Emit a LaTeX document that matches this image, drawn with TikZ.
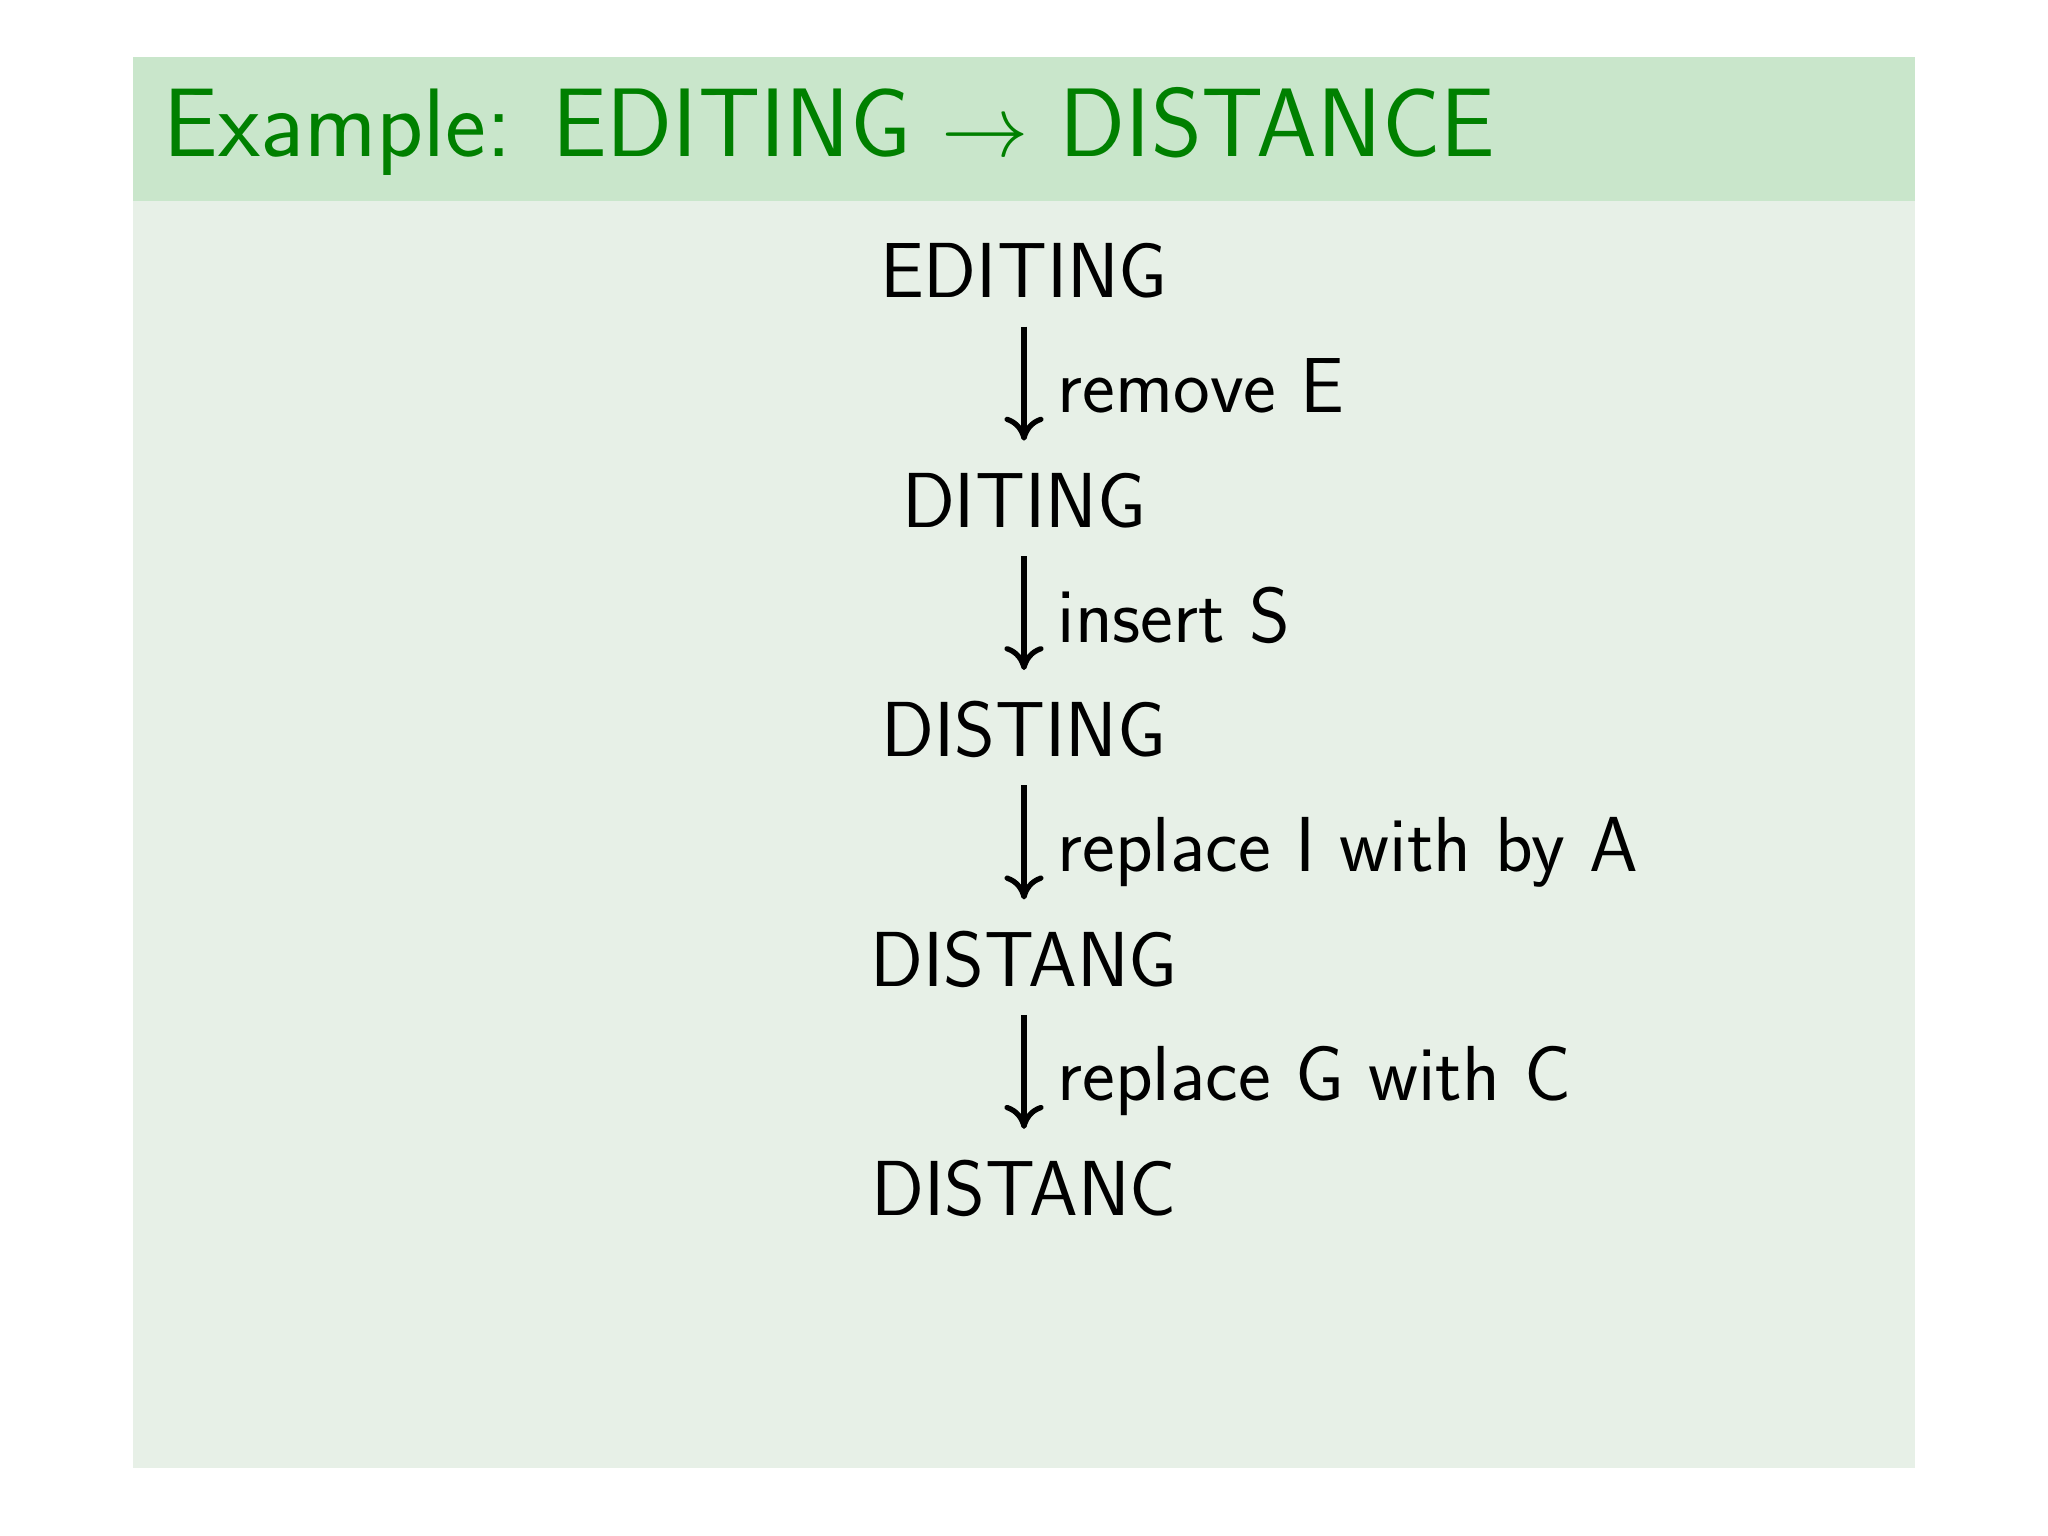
\documentclass[tikz,border=0pt]{standalone}
\usepackage{xcolor}
\definecolor{cTitle}{HTML}{008000}
\definecolor{cBar}{HTML}{C9E6CB}
\definecolor{cBody}{HTML}{E7F0E7}
\usepackage{tikz}
\usetikzlibrary{positioning,arrows.meta}
\tikzset{
  word-node/.style={inner sep=0pt,text height=0.54cm,text depth=0pt,
    font=\sffamily\fontsize{22.2}{26}\selectfont},
  edit-label/.style={right,inner sep=0pt,xshift=0.31cm,text height=0.54cm,
    text depth=0pt,font=\sffamily\fontsize{22.2}{26}\selectfont},
  edit-arrow/.style={-{Computer Modern Rightarrow[length=2.4mm,width=3.9mm]},
    line width=1.5pt,shorten <=2.8mm,shorten >=3.2mm},
}
\begin{document}
\begin{tikzpicture}[node distance=1.74cm]
  \useasboundingbox (0,0) rectangle (20.48,15.36);
  % slide panel and title bar
  \fill[cBody] (1.33,0.68) rectangle (19.15,13.35);
  \fill[cBar] (1.33,13.35) rectangle (19.15,14.79);
  \node[anchor=base west,inner sep=0pt,text=cTitle,
    font=\sffamily\fontsize{27.7}{33}\selectfont] (title) at (1.63,13.79)
    {Example: EDITING $\rightarrow$ DISTANCE};
  % chain of edits
  \node[word-node,anchor=base] (w0) at (10.24,12.38) {EDITING};
  \node[word-node,below=of w0] (w1) {DITING};
  \node[word-node,below=of w1] (w2) {DISTING};
  \node[word-node,below=of w2] (w3) {DISTANG};
  \node[word-node,below=of w3] (w4) {DISTANC};
  \draw[edit-arrow] (w0) -- node[edit-label] {remove E} (w1);
  \draw[edit-arrow] (w1) -- node[edit-label] {insert S} (w2);
  \draw[edit-arrow] (w2) -- node[edit-label] {replace I with by A} (w3);
  \draw[edit-arrow] (w3) -- node[edit-label] {replace G with C} (w4);
\end{tikzpicture}
\end{document}
